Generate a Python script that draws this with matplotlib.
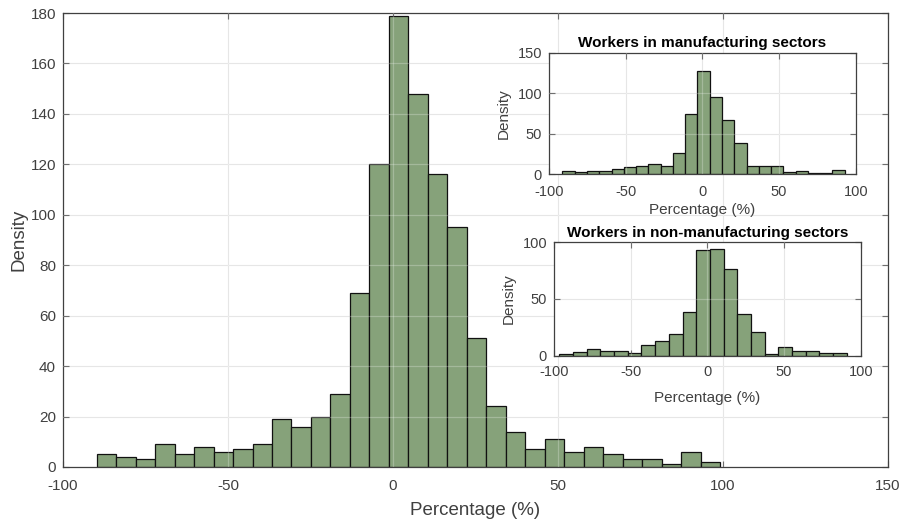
import matplotlib.pyplot as plt
import numpy as np

plt.rcParams['font.family'] = ['Liberation Sans', 'DejaVu Sans']
plt.rcParams['axes.unicode_minus'] = False

# all workers, bin heights
main_heights = [5, 4, 3, 9, 5, 8, 6, 7, 9, 19, 16, 20, 29, 69, 120, 179, 148, 116,
                95, 51, 24, 14, 7, 11, 6, 8, 5, 3, 3, 1, 6, 2]
main_edges = np.linspace(-89.8, 99.1, len(main_heights) + 1)

# manufacturing
manu_heights = [4, 3, 3.3, 3.3, 6.6, 8.7, 10, 12.8, 10, 26.4, 74, 128, 96, 66.5, 39,
                10, 10, 10, 2.5, 3.7, 1.7, 1.7, 4.5]
manu_edges = -91.2 + 8.0 * np.arange(len(manu_heights) + 1)

# non-manufacturing
nonmanu_heights = [1.2, 3.2, 6.2, 4.4, 4.4, 2.4, 9.1, 13.2, 19.4, 38.2, 93, 94, 76.5,
                   36.5, 21.2, 1.2, 7.4, 4.4, 4.4, 2.4, 2.4]
nonmanu_edges = np.linspace(-96.5, 90.9, len(nonmanu_heights) + 1)

bar_color = '#86a27a'
text_color = '#404040'


def style_axes(ax, xticks, yticks, fs=10, xpad=5):
    ax.set_xticks(xticks)
    ax.set_yticks(yticks)
    ax.tick_params(direction='in', top=True, right=True, length=4, pad=5,
                   width=0.8, colors='#404040', labelsize=fs, labelcolor=text_color)
    ax.tick_params(axis='x', pad=xpad)
    for s in ax.spines.values():
        s.set_color('#404040')
        s.set_linewidth(0.9)
    ax.set_axisbelow(True)
    ax.grid(True, color='#dedede', linewidth=0.8)
    # light grid also showing through the bars
    for t in xticks[1:-1]:
        ax.axvline(t, color='white', alpha=0.25, linewidth=0.9, zorder=3)
    for t in yticks[1:-1]:
        ax.axhline(t, color='white', alpha=0.25, linewidth=0.9, zorder=3)


def draw_hist(ax, edges, heights):
    ax.bar(edges[:-1], heights, width=np.diff(edges), align='edge',
           color=bar_color, edgecolor='#111111', linewidth=0.9, zorder=2)


fig = plt.figure(figsize=(9.04, 5.23), dpi=100)

ax = fig.add_axes([0.0697, 0.1071, 0.9126, 0.868])
draw_hist(ax, main_edges, main_heights)
ax.set_xlim(-100, 150)
ax.set_ylim(0, 180)
style_axes(ax, np.arange(-100, 151, 50), np.arange(0, 181, 20), fs=11, xpad=9)
ax.set_xlabel('Percentage (%)', fontsize=13.5, color=text_color, labelpad=6)
ax.set_ylabel('Density', fontsize=13.5, color=text_color, labelpad=2)

ax1 = fig.add_axes([0.6073, 0.6673, 0.3393, 0.2314])
ax1.set_facecolor('white')
draw_hist(ax1, manu_edges, manu_heights)
ax1.set_xlim(-100, 100)
ax1.set_ylim(0, 150)
style_axes(ax1, np.arange(-100, 101, 50), np.arange(0, 151, 50), fs=10.5, xpad=8)
ax1.set_title('Workers in manufacturing sectors', fontsize=11, fontweight='bold', pad=4)
ax1.set_xlabel('Percentage (%)', fontsize=11, color=text_color, labelpad=3)
ax1.set_ylabel('Density', fontsize=11, color=text_color, labelpad=5)

ax2 = fig.add_axes([0.6128, 0.3199, 0.3393, 0.2168])
ax2.set_facecolor('white')
draw_hist(ax2, nonmanu_edges, nonmanu_heights)
ax2.set_xlim(-100, 100)
ax2.set_ylim(0, 100)
style_axes(ax2, np.arange(-100, 101, 50), np.arange(0, 101, 50), fs=10.5, xpad=7)
ax2.set_title('Workers in non-manufacturing sectors', fontsize=11, fontweight='bold', pad=4)
ax2.set_xlabel('Percentage (%)', fontsize=11, color=text_color, labelpad=8)
ax2.set_ylabel('Density', fontsize=11, color=text_color, labelpad=5)

fig.savefig('out.png', dpi=100)
